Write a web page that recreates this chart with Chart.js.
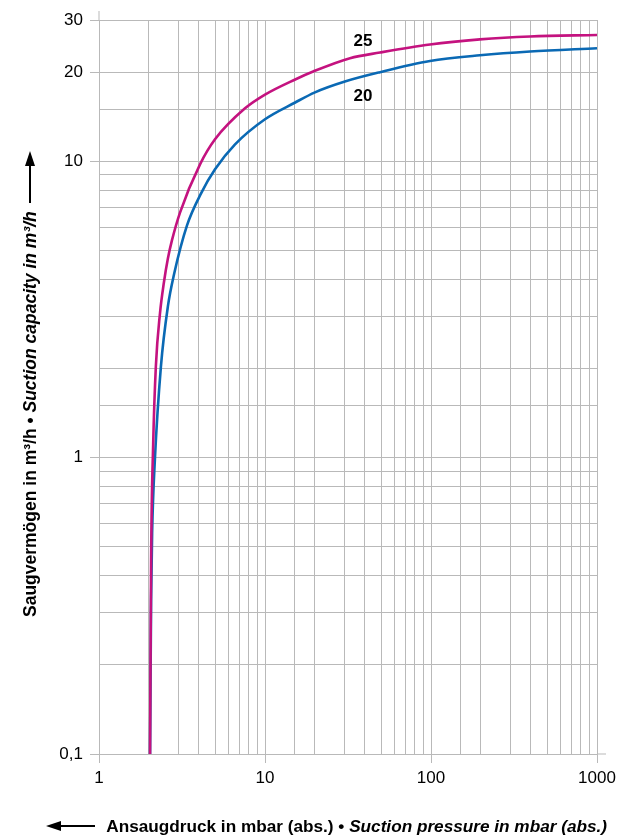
<!DOCTYPE html>
<html>
<head>
<meta charset="utf-8">
<script src="https://cdn.jsdelivr.net/npm/chart.js@4"></script>
<style>
  html, body { margin: 0; padding: 0; background: #fff; }
  #wrap { width: 633px; height: 840px; position: relative; }
</style>
</head>
<body>
<div id="wrap"><canvas id="chart"></canvas></div>
<script>
// suction pressure (mbar) / suction capacity (m3/h)
const pressure25 = [2.03, 2.06, 2.12, 2.2, 2.33, 2.46, 2.6, 2.75, 3.08, 4.06, 5.0, 7.58, 10.0, 15.2, 19.5, 32.5, 49.3, 98.6, 197, 395, 1000];
const capacity25 = [0.1, 0.45, 1.11, 2.03, 3.07, 3.9, 4.7, 5.41, 6.73, 9.77, 11.87, 15.1, 16.8, 18.9, 20.1, 22.3, 23.3, 24.8, 25.8, 26.4, 26.7];
const pressure20 = [2.03, 2.06, 2.09, 2.17, 2.36, 2.6, 2.83, 3.39, 4.12, 5.0, 6.6, 10.0, 15.2, 20.0, 30.3, 49.3, 98.6, 197, 395, 1000];
const capacity20 = [0.1, 0.33, 0.56, 0.98, 2.03, 3.24, 4.15, 6.08, 7.8, 9.4, 11.41, 13.87, 15.8, 17.1, 18.6, 20.0, 21.8, 22.8, 23.5, 24.1];
const seriesNames = ['25', '20'];
const seriesColors = ['#c4127f', '#0a69b4'];
const xLabelTicks = [1, 10, 100, 1000];
const yLabelTicks = [0.1, 1, 10, 20, 30];
const curveLabelAt = [{ x: 38.9, y: 25.4 }, { x: 38.9, y: 16.6 }];

const gridGray = '#b9b9b9';
const fontFamily = '"Liberation Sans", Arial, sans-serif';
const isIn = (v, list) => list.some((t) => Math.abs(t - v) < t * 1e-6);
const toPoints = (xs, ys) => xs.map((x, i) => ({ x, y: ys[i] }));

const titlesPlugin = {
  id: 'titles',
  beforeDatasetsDraw(chart) {
    // small axis overhangs: left axis above the top, bottom axis past the right
    const { ctx, chartArea: a } = chart;
    ctx.save();
    ctx.strokeStyle = gridGray;
    ctx.lineWidth = 1;
    ctx.beginPath();
    ctx.moveTo(a.left, a.top); ctx.lineTo(a.left, a.top - 9);
    ctx.moveTo(a.right, a.bottom); ctx.lineTo(a.right + 9, a.bottom);
    ctx.stroke();
    ctx.restore();
  },
  afterDatasetsDraw(chart) {
    const { ctx, scales } = chart;
    ctx.save();
    ctx.fillStyle = '#000';
    ctx.font = 'bold 17px ' + fontFamily;
    ctx.textAlign = 'center';
    ctx.textBaseline = 'middle';
    curveLabelAt.forEach((p, i) => {
      ctx.fillText(seriesNames[i], scales.x.getPixelForValue(p.x), scales.y.getPixelForValue(p.y));
    });

    const drawMixed = (parts, x, y) => {
      ctx.textAlign = 'left';
      ctx.textBaseline = 'alphabetic';
      let cx = x;
      parts.forEach(([t, f]) => { ctx.font = f; ctx.fillText(t, cx, y); cx += ctx.measureText(t).width; });
    };
    const widthOf = (parts) => parts.reduce((s, [t, f]) => { ctx.font = f; return s + ctx.measureText(t).width; }, 0);

    // x axis title with left arrow
    const xr = 'bold 17.2px ' + fontFamily;
    const xi = 'italic bold 17.2px ' + fontFamily;
    const xParts = [['Ansaugdruck in mbar (abs.) • ', xr], ['Suction pressure in mbar (abs.)', xi]];
    const ty = 832;
    drawMixed(xParts, 607 - widthOf(xParts), ty);
    const ay = ty - 6;
    ctx.strokeStyle = '#000';
    ctx.lineWidth = 2;
    ctx.beginPath(); ctx.moveTo(95, ay); ctx.lineTo(58, ay); ctx.stroke();
    ctx.beginPath(); ctx.moveTo(46, ay); ctx.lineTo(61, ay - 5); ctx.lineTo(61, ay + 5); ctx.closePath(); ctx.fill();

    // y axis title with up arrow
    const yr = 'bold 17.5px ' + fontFamily;
    const yi = 'italic bold 17.5px ' + fontFamily;
    const yParts = [['Saugvermögen in m³/h • ', yr], ['Suction capacity in m³/h', yi]];
    ctx.translate(36, 617);
    ctx.rotate(-Math.PI / 2);
    drawMixed(yParts, 0, 0);
    const ax = -6;
    ctx.beginPath(); ctx.moveTo(414, ax); ctx.lineTo(452, ax); ctx.stroke();
    ctx.beginPath(); ctx.moveTo(466, ax); ctx.lineTo(451, ax - 5); ctx.lineTo(451, ax + 5); ctx.closePath(); ctx.fill();
    ctx.restore();
  },
};

new Chart(document.getElementById('chart'), {
  type: 'scatter',
  data: {
    datasets: [
      { label: seriesNames[0], data: toPoints(pressure25, capacity25), borderColor: seriesColors[0] },
      { label: seriesNames[1], data: toPoints(pressure20, capacity20), borderColor: seriesColors[1] },
    ].map((d) => ({ ...d, showLine: true, pointRadius: 0, borderWidth: 2.6, cubicInterpolationMode: 'monotone', fill: false })),
  },
  options: {
    responsive: true,
    maintainAspectRatio: false,
    animation: false,
    layout: { padding: { top: 20, right: 36, left: 0, bottom: 0 } },
    plugins: { legend: { display: false }, tooltip: { enabled: false } },
    scales: {
      x: {
        type: 'logarithmic',
        min: 1,
        max: 1000,
        afterFit: (s) => { s.height = 86; },
        border: { color: gridGray },
        grid: { color: gridGray, tickLength: 9, tickColor: (c) => (c.tick && isIn(c.tick.value, xLabelTicks) ? gridGray : 'rgba(0,0,0,0)') },
        ticks: {
          autoSkip: false,
          maxRotation: 0,
          padding: 5,
          color: '#000',
          font: { family: fontFamily, size: 17 },
          callback: (v) => (isIn(v, xLabelTicks) ? String(v) : ''),
        },
      },
      y: {
        type: 'logarithmic',
        min: 0.1,
        max: 30,
        afterFit: (s) => { s.width = 99; },
        border: { color: gridGray },
        grid: { color: gridGray, tickLength: 9, tickColor: (c) => (c.tick && isIn(c.tick.value, yLabelTicks) ? gridGray : 'rgba(0,0,0,0)') },
        ticks: {
          autoSkip: false,
          padding: 7,
          color: '#000',
          font: { family: fontFamily, size: 17 },
          callback: (v) => (isIn(v, yLabelTicks) ? String(v).replace('.', ',') : ''),
        },
      },
    },
  },
  plugins: [titlesPlugin],
});
</script>
</body>
</html>
